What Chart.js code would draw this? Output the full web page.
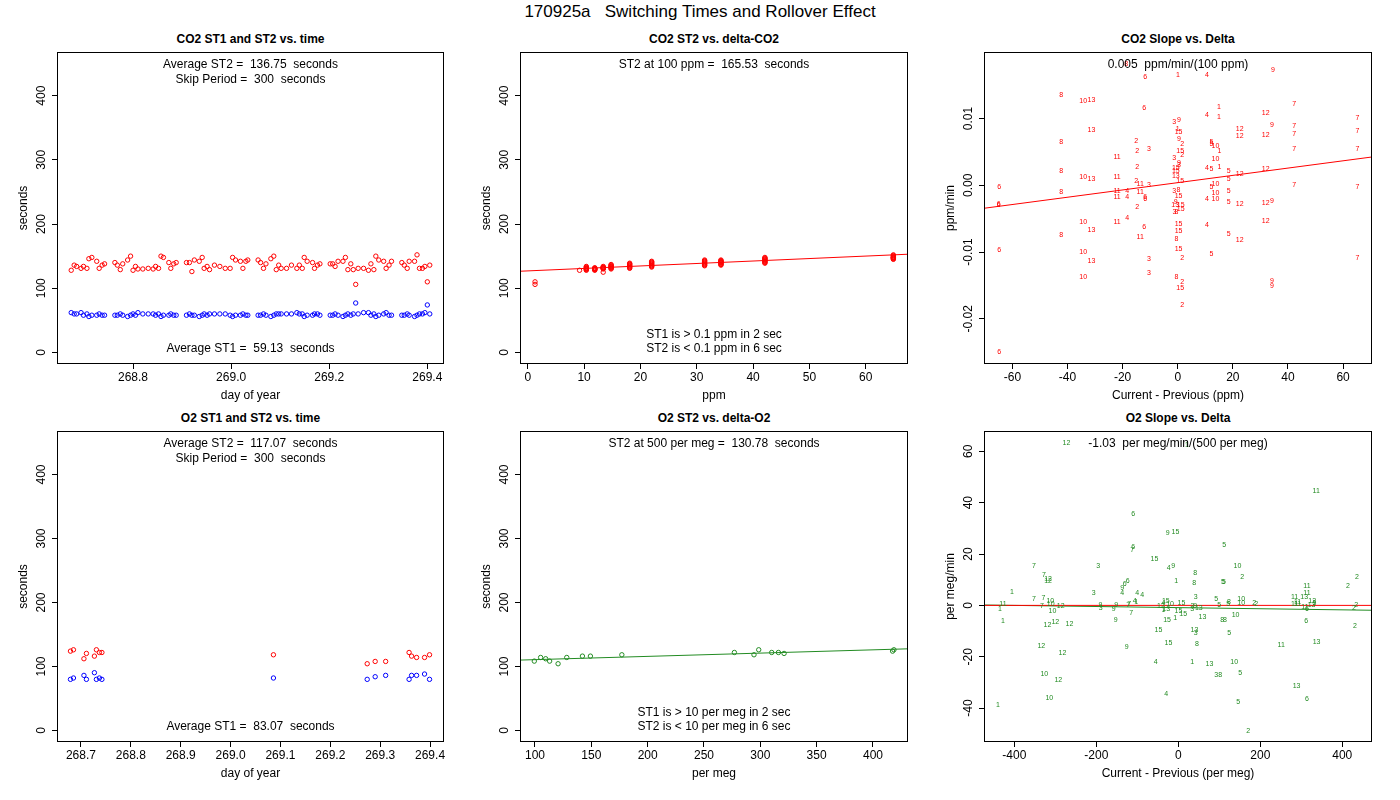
<!DOCTYPE html>
<html>
<head>
<meta charset="utf-8">
<script src="https://cdn.jsdelivr.net/npm/chart.js@4.4.0/dist/chart.umd.min.js"></script>
<style>
  body { margin: 0; width: 1400px; height: 800px; background: #fff; position: relative; overflow: hidden;
         font-family: "Liberation Sans", Arial, sans-serif; color: #000; }
  #mainTitle { position: absolute; left: 0; top: 2px; width: 1400px; text-align: center; font-size: 17px; line-height: 20px; }
  .ptitle { position: absolute; width: 400px; text-align: center; font-weight: bold; font-size: 12px; line-height: 14px; }
  canvas { position: absolute; }
</style>
</head>
<body>
<div id="mainTitle">170925a&nbsp;&nbsp;&nbsp;Switching Times and Rollover Effect</div>

<script>
// ---- CO2 ST1 / ST2 vs time ----
const co2Time = [
  268.674, 268.680, 268.685, 268.694, 268.699, 268.706, 268.710, 268.716, 268.726, 268.731, 268.737, 268.742,
  268.763, 268.768, 268.774, 268.779, 268.789, 268.795, 268.800, 268.805, 268.810, 268.820, 268.831, 268.841,
  268.846, 268.852, 268.857, 268.862, 268.873, 268.877, 268.883, 268.888,
  268.909, 268.915, 268.920, 268.925, 268.935, 268.941, 268.945, 268.951, 268.956, 268.966, 268.977, 268.988,
  268.998, 269.003, 269.009, 269.019, 269.024, 269.030, 269.034,
  269.055, 269.060, 269.066, 269.071, 269.081, 269.087, 269.092, 269.097, 269.102, 269.113, 269.123, 269.134,
  269.139, 269.145, 269.149, 269.155, 269.166, 269.170, 269.176, 269.181,
  269.202, 269.207, 269.212, 269.218, 269.228, 269.233, 269.238, 269.244, 269.249, 269.254, 269.259, 269.270,
  269.280, 269.285, 269.291, 269.295, 269.301, 269.311, 269.316, 269.322, 269.327,
  269.348, 269.353, 269.359, 269.363, 269.374, 269.379, 269.384, 269.390, 269.395, 269.400, 269.405
];
const co2St2 = [
  128, 136, 134, 131, 134, 131, 146, 148, 142, 131, 136, 138,
  140, 136, 129, 138, 144, 150, 128, 134, 130, 130, 131, 130, 134, 131, 150, 148, 140, 131, 138, 140,
  140, 140, 126, 144, 142, 148, 131, 134, 129, 136, 134, 131, 131, 148, 144, 142, 131, 142, 144,
  144, 140, 131, 138, 146, 150, 129, 136, 131, 131, 136, 131, 136, 131, 148, 142, 140, 131, 136, 138,
  138, 138, 134, 142, 142, 148, 129, 138, 129, 106, 131, 131, 128, 138, 129, 150, 144, 142, 131, 136, 142,
  140, 136, 131, 142, 142, 152, 131, 131, 134, 110, 136
];
const co2St1 = [
  62, 60, 60, 62, 58, 60, 56, 58, 58, 60, 58, 58,
  58, 58, 60, 58, 56, 58, 60, 58, 62, 60, 60, 60, 58, 60, 56, 58, 58, 60, 58, 58,
  58, 60, 58, 58, 56, 58, 60, 58, 60, 60, 60, 60, 58, 56, 58, 58, 60, 58, 58,
  58, 58, 60, 58, 56, 58, 60, 60, 60, 60, 60, 62, 60, 60, 56, 58, 58, 60, 60, 58,
  58, 58, 60, 58, 56, 58, 60, 58, 60, 77, 60, 62, 62, 58, 60, 56, 58, 60, 62, 58, 58,
  58, 58, 60, 58, 56, 58, 60, 60, 62, 74, 60
];

// ---- CO2 ST2 vs delta-CO2 ----
const co2DeltaPpm = [
  1.3, 1.3, 9.2,
  10.4, 10.4, 10.4, 10.4, 10.4, 10.4, 10.4, 10.4, 10.4,
  11.9, 11.9, 11.9, 11.9, 11.9, 11.9, 11.9, 11.9,
  13.4, 13.4, 13.4, 13.4, 13.4, 13.4, 13.4, 13.4,
  14.8, 14.8, 14.8, 14.8, 14.8, 14.8, 14.8, 14.8, 14.8,
  18.1, 18.1, 18.1, 18.1, 18.1, 18.1, 18.1, 18.1, 18.1,
  22.0, 22.0, 22.0, 22.0, 22.0, 22.0, 22.0, 22.0, 22.0, 22.0,
  31.4, 31.4, 31.4, 31.4, 31.4, 31.4, 31.4, 31.4, 31.4, 31.4,
  34.3, 34.3, 34.3, 34.3, 34.3, 34.3, 34.3, 34.3, 34.3, 34.3,
  42.1, 42.1, 42.1, 42.1, 42.1, 42.1, 42.1, 42.1, 42.1, 42.1,
  64.9, 64.9, 64.9, 64.9, 64.9, 64.9, 64.9, 64.9, 64.9, 64.9
];
const co2DeltaSt2 = [
  106, 110, 128,
  128, 129, 130, 131, 132, 133, 134, 131, 130,
  128, 129, 130, 131, 132, 130, 129, 131,
  125, 130, 131, 132, 133, 134, 131, 132,
  130, 131, 132, 133, 134, 135, 136, 137, 133,
  131, 132, 133, 134, 135, 136, 137, 138, 139,
  133, 134, 135, 136, 137, 138, 139, 140, 141, 142,
  135, 136, 137, 138, 139, 140, 141, 142, 143, 144,
  136, 137, 138, 139, 140, 141, 142, 143, 144, 141,
  139, 140, 141, 142, 143, 144, 145, 146, 147, 148,
  145, 146, 147, 148, 149, 150, 151, 152, 148, 147
];
const co2FitX = [-1.37, 67.5];
const co2FitY = [126.5, 153.0];

// ---- CO2 slope vs delta (labelled by cycle number) ----
const co2SlopeLabel = [
  '9','6','1','4','8','8','10','13','6','1','7','12','4','1','7','3','9','9','7','13',
  '1','15','12','12','12','7','7','8','2','9','2','5','5','10','1','2','3','15','2','7',
  '7','11','3','10','2','8','9','3','15','15','4','5','1','5','12','12','10','13','11','13',
  '15','5','2','11','3','7','6','7','5','10','8','11','4','11','3','8','10','5','15','11',
  '4','6','6','4','10','12','12','9','5','6','6','2','9','13','15','15','3','8','4','10',
  '11','12','15','4','6','13','15','8','5','11','8','12','15','6','10','5','13','3','2','7',
  '3','10','8','2','9','9','15','2','6'
];
const co2SlopeDelta = [
  34.6, -11.8, 0.1, 10.6, -18.7, -42.3, -34.3, -31.3, -12.2, 15.0, 42.3, 31.9, 10.6, 15.0, 65.2, -1.3, 0.4, 34.2, 42.3, -31.3,
  0.0, 0.3, 22.5, 22.5, 31.9, 42.3, 65.2, -42.3, -15.1, 0.4, 1.6, 12.2, 12.2, 13.7, 15.1, -14.7, -10.4, 0.9, 1.6, 42.3,
  65.2, -22.0, -1.3, 13.7, -14.7, -42.3, 0.4, 0.4, -0.7, -0.7, 10.6, 12.2, 15.1, 18.5, 22.5, 31.9, -34.3, -31.3, -22.0, -0.7,
  0.9, 18.5, -15.1, -13.6, -10.4, 42.3, -64.8, 65.2, 12.2, 13.7, -42.3, -22.0, -18.3, -13.6, -1.3, 0.3, 13.7, 18.5, 0.3, -22.0,
  -18.3, -11.8, -11.8, 10.6, 13.7, 22.5, 31.9, 34.2, 18.5, -65.0, -65.0, -14.7, -0.7, -0.9, 1.1, 1.1, -1.2, -0.5, -18.3, -34.3,
  -22.0, 31.9, 0.3, 10.6, -12.2, -31.3, 0.3, -42.3, 18.5, -13.6, -0.5, 22.5, 0.3, -64.8, -34.3, 12.2, -31.3, -10.4, 1.6, 65.2,
  -10.4, -34.3, -0.5, 1.6, 34.2, 34.2, 0.9, 1.6, -64.8
];
const co2SlopeValue = [
  0.0172, 0.0162, 0.0165, 0.0165, 0.0181, 0.0135, 0.0126, 0.0127, 0.0115, 0.0117, 0.0121, 0.0108, 0.0105, 0.0102, 0.0100, 0.0095, 0.0097, 0.0090, 0.0088, 0.0082,
  0.0084, 0.0079, 0.0084, 0.0073, 0.0075, 0.0076, 0.0081, 0.0064, 0.0066, 0.0069, 0.0062, 0.0064, 0.0061, 0.0059, 0.0052, 0.0052, 0.0054, 0.0051, 0.0046, 0.0055,
  0.0054, 0.0043, 0.0041, 0.0039, 0.0028, 0.0021, 0.0033, 0.0030, 0.0026, 0.0021, 0.0026, 0.0024, 0.0028, 0.0021, 0.0017, 0.0024, 0.0013, 0.0009, 0.0012, 0.0014,
  0.0007, 0.0010, 0.0006, 0.0002, 0.0000, 0.0000, -0.0003, -0.0003, -0.0003, 0.0002, -0.0010, -0.0009, -0.0009, -0.0010, -0.0009, -0.0007, -0.0012, -0.0009, -0.0016, -0.0018,
  -0.0018, -0.0017, -0.0020, -0.0021, -0.0021, -0.0028, -0.0027, -0.0024, -0.0025, -0.0028, -0.0030, -0.0033, -0.0025, -0.0030, -0.0030, -0.0036, -0.0040, -0.0040, -0.0049, -0.0055,
  -0.0055, -0.0054, -0.0058, -0.0060, -0.0063, -0.0067, -0.0069, -0.0075, -0.0073, -0.0078, -0.0081, -0.0082, -0.0096, -0.0097, -0.0100, -0.0103, -0.0114, -0.0111, -0.0109, -0.0109,
  -0.0132, -0.0138, -0.0138, -0.0145, -0.0144, -0.0151, -0.0154, -0.0180, -0.0250
];
const co2SlopeFitX = [-70.3, 70.5];
const co2SlopeFitY = [-0.00344, 0.00424];

// ---- O2 ST1 / ST2 vs time ----
const o2Time = [268.679, 268.685, 268.706, 268.711, 268.727, 268.731, 268.737, 268.742, 269.086,
                269.274, 269.290, 269.311, 269.358, 269.363, 269.373, 269.389, 269.399];
const o2St2 = [124.0, 126.1, 112.1, 120.4, 116.2, 126.1, 121.9, 121.9, 118.3,
               104.3, 107.9, 107.9, 121.9, 116.2, 114.1, 114.1, 118.3];
const o2St1 = [79.9, 82.0, 86.1, 79.9, 90.3, 79.9, 82.0, 79.9, 82.0,
               79.9, 84.0, 86.1, 79.9, 86.1, 86.1, 88.2, 79.9];

// ---- O2 ST2 vs delta-O2 ----
const o2DeltaPerMeg = [99.4, 105.0, 109.5, 113.0, 120.5, 128.2, 142.1, 149.2, 177.1,
                       277.0, 294.4, 298.6, 310.1, 316.1, 321.1, 417.4, 418.6];
const o2DeltaSt2 = [108.4, 114.1, 112.1, 108.4, 104.3, 114.1, 116.2, 116.2, 118.3,
                    121.9, 118.3, 126.1, 121.9, 121.9, 120.4, 124.0, 126.1];
const o2FitX = [86.7, 431.1];
const o2FitY = [110.0, 127.6];

// ---- O2 slope vs delta (labelled by cycle number) ----
const o2SlopeLabel = [
  '12','1','11','6','9','15','5','6','7','15','3','7','4','9','10','8','2','7','12','12',
  '1','8','5','5','6','6','9','4','11','2','2','1','3','4','4','11','3','5','7','7',
  '10','11','13','11','13','5','10','10','2','2','8','5','4','1','7','7','15','15','10','4',
  '3','9','13','3','11','11','13','11','6','2','2','11','1','7','10','12','9','3','9','9',
  '12','1','13','15','15','5','10','7','1','15','9','13','10','8','8','1','12','12','12','6',
  '2','15','13','3','5','13','15','8','12','9','11','12','4','1','13','10','10','3','8','5',
  '12','13','10','4','6','5','1','2'
];
const o2SlopeDelta = [
  -273, 21, 336.5, -110.3, -25.7, -7.0, 111.9, -110.3, -112.7, -58.2, -195.7, -352.0, -23.2, -12.6, 144.4, 41.1, 155.8, -327.6, -317.8, -317.8,
  -5.3, 38.6, 108.6, 111.1, -123.3, -130.6, -137.1, -137.1, 313.7, 413.8, 435.8, -405.7, -206.3, -100.5, -88.3, 313.7, 42.7, 92.4, -352.0, -329.2,
  -312.1, 283.6, 307.2, 291.0, 326.7, 332.4, 153.4, 153.4, 185.1, 190.0, 123.3, 121.6, -106.2, -103.0, -120.1, -122.5, -30.5, 7.7, -20.0, -36.3,
  34.6, 41.1, 50.0, 33.8, 283.6, 291.0, 325.1, 308.8, 313.7, 434.1, 428.4, -427.7, -435.0, -332.5, -311.3, -286.9, -190.0, -189.2, -151.8, -157.5,
  -42.7, -36.3, -29.7, 0.4, 11.8, 99.7, -307.2, -115.2, -7.8, -27.3, -152.6, 59.0, 139.6, 107.0, 113.5, -427.7, -319.4, -300.0, -265.7, 312.1,
  430.9, -48.4, 39.4, 42.7, 124.1, 337.3, -24.0, 45.2, -334.1, -125.7, 251.0, -282.8, -54.9, 33.8, 76.1, 136.3, -326.8, 92.4, 102.1, 150.9,
  -292.6, 288.5, -314.6, -29.7, 313.7, 146.1, -439.9, 170.5
];
const o2SlopeValue = [
  63.3, 62.5, 44.7, 35.4, 28.0, 28.6, 23.3, 22.9, 21.6, 17.9, 15.5, 15.2, 14.6, 15.5, 15.2, 12.4, 10.9, 11.9, 10.2, 9.5,
  9.3, 8.5, 8.9, 8.9, 9.5, 8.2, 6.6, 4.7, 7.4, 7.4, 10.9, 5.3, 4.7, 4.7, 3.9, 4.7, 3.1, 2.5, 2.3, 2.7,
  1.7, 3.1, 3.1, 1.4, 1.8, 0.9, 2.3, 0.8, 0.8, 0.4, 1.2, 0.4, 1.6, 1.3, 0.6, 0.0, 1.7, 0.8, 0.4, 0.9,
  -0.3, -0.3, -1.2, -1.4, 0.4, 0.4, 0.1, -0.8, -1.6, 0.1, -1.0, 0.6, -1.6, -0.1, 0.5, -0.4, 0.1, -1.2, 0.0, -1.4,
  -0.4, -1.9, -1.6, -2.1, -3.5, 0.1, -2.3, -3.1, -5.1, -5.8, -5.8, -4.7, -3.9, -5.8, -5.8, -6.3, -7.8, -6.6, -7.4, -6.3,
  -8.2, -9.7, -9.7, -10.9, -10.9, -14.4, -14.8, -15.2, -15.9, -16.3, -15.5, -18.6, -22.1, -22.1, -22.9, -22.1, -26.8, -27.2, -27.2, -26.4,
  -29.1, -31.5, -36.1, -34.6, -36.5, -37.7, -39.0, -49.0
];
const o2ZeroX = [-474, 472.5];
const o2ZeroY = [0, 0];
const o2SlopeFitX = [-474, 472.5];
const o2SlopeFitY = [0.15, -1.9];

// ---- axis ticks ----
const secTicks = [0, 100, 200, 300, 400];
const co2TimeTicks = [268.8, 269.0, 269.2, 269.4];
const o2TimeTicks = [268.7, 268.8, 268.9, 269.0, 269.1, 269.2, 269.3, 269.4];
const ppmTicks = [0, 10, 20, 30, 40, 50, 60];
const co2SlopeXTicks = [-60, -40, -20, 0, 20, 40, 60];
const co2SlopeYTicks = [-0.02, -0.01, 0.00, 0.01];
const perMegTicks = [100, 150, 200, 250, 300, 350, 400];
const o2SlopeXTicks = [-400, -200, 0, 200, 400];
const o2SlopeYTicks = [-40, -20, 0, 20, 40, 60];

const RED = '#ff0000', BLUE = '#0000ff', GREEN = '#228b22';
const FONT = '"Liberation Sans", Arial, sans-serif';

const pts = (xs, ys) => xs.map((x, i) => ({x: x, y: ys[i]}));

// R-like decorations: box, rotated y labels, in-plot notes, text markers
const rDecor = {
    id: 'rDecor',
    afterDatasetsDraw(chart) {
        const ctx = chart.ctx;
        chart.data.datasets.forEach((ds, di) => {
            if (!ds.textLabels) return;
            const meta = chart.getDatasetMeta(di);
            ctx.save();
            ctx.fillStyle = ds.textColor;
            ctx.font = '7px ' + FONT;
            ctx.textAlign = 'center';
            ctx.textBaseline = 'middle';
            meta.data.forEach((el, i) => ctx.fillText(ds.textLabels[i], el.x, el.y));
            ctx.restore();
        });
    },
    afterDraw(chart, args, opts) {
        const ctx = chart.ctx;
        const a = chart.chartArea;
        const ys = chart.scales.y;
        ctx.save();
        ctx.strokeStyle = '#000';
        ctx.lineWidth = 1;
        ctx.strokeRect(a.left + 0.5, a.top + 0.5, a.right - a.left - 1, a.bottom - a.top - 1);

        ctx.fillStyle = '#000';
        ctx.font = '12px ' + FONT;
        ctx.textAlign = 'center';
        ctx.textBaseline = 'middle';
        ys.ticks.forEach(t => {
            const y = ys.getPixelForValue(t.value);
            ctx.save();
            ctx.translate(a.left - 15, y);
            ctx.rotate(-Math.PI / 2);
            ctx.fillText(opts.yFmt(t.value), 0, 0);
            ctx.restore();
        });

        const cx = (a.left + a.right) / 2;
        (opts.top || []).forEach((s, i) => ctx.fillText(s, cx, a.top + 13 + i * 14.5));
        (opts.bottom || []).forEach((s, i, arr) => ctx.fillText(s, cx, a.bottom - 15 - (arr.length - 1 - i) * 14.5));
        ctx.restore();
    }
};

function circles(xs, ys, color) {
    return {data: pts(xs, ys), borderColor: color, backgroundColor: 'rgba(0,0,0,0)',
            pointRadius: 2.2, pointBorderWidth: 1, pointHoverRadius: 2.2};
}
function fitLine(xs, ys, color) {
    return {data: pts(xs, ys), showLine: true, borderColor: color, borderWidth: 1, pointRadius: 0};
}
function numbers(labels, xs, ys, color) {
    return {data: pts(xs, ys), pointRadius: 0, textLabels: labels, textColor: color};
}

function panel(p) {
    const padL = 41, padR = 10, padT = 4, axisH = 39;
    const canvas = document.createElement('canvas');
    canvas.width = Math.round(p.box.r - p.box.l) + padL + padR;
    canvas.height = Math.round(p.box.b - p.box.t) + padT + axisH;
    canvas.style.left = (p.box.l - padL) + 'px';
    canvas.style.top = (p.box.t - padT) + 'px';
    document.body.appendChild(canvas);

    const t = document.createElement('div');
    t.className = 'ptitle';
    t.textContent = p.title;
    t.style.left = ((p.box.l + p.box.r) / 2 - 200) + 'px';
    t.style.top = (p.box.t - 20.5) + 'px';
    document.body.appendChild(t);

    const tickFont = {family: FONT, size: 12};
    new Chart(canvas, {
        type: 'scatter',
        data: {datasets: p.datasets},
        options: {
            responsive: false,
            animation: false,
            events: [],
            layout: {padding: {top: padT, right: padR, left: 0, bottom: 0}},
            plugins: {
                legend: {display: false},
                tooltip: {enabled: false},
                title: {display: false},
                rDecor: {top: p.top, bottom: p.bottom, yFmt: p.yFmt}
            },
            scales: {
                x: {
                    type: 'linear', min: p.xMin, max: p.xMax,
                    afterBuildTicks: s => { s.ticks = p.xTicks.map(v => ({value: v})); },
                    afterFit: s => { s.height = axisH; },
                    ticks: {callback: v => p.xFmt(v), font: tickFont, color: '#000', padding: 1,
                            maxRotation: 0, autoSkip: false},
                    grid: {drawOnChartArea: false, drawTicks: true, tickLength: 5, color: '#000'},
                    border: {display: false},
                    title: {display: true, text: p.xTitle, font: tickFont, color: '#000', padding: 0}
                },
                y: {
                    type: 'linear', min: p.yMin, max: p.yMax,
                    afterBuildTicks: s => { s.ticks = p.yTicks.map(v => ({value: v})); },
                    afterFit: s => { s.width = padL; },
                    ticks: {display: false},
                    grid: {drawOnChartArea: false, drawTicks: true, tickLength: 5, color: '#000'},
                    border: {display: false},
                    title: {display: true, text: p.yTitle, font: tickFont, color: '#000', padding: 0}
                }
            }
        },
        plugins: [rDecor]
    });
}

const colL = [57, 520, 984], colR = [444, 908, 1372];
const rowT = [52, 431], rowB = [364, 742];
const box = (c, r) => ({l: colL[c], r: colR[c], t: rowT[r], b: rowB[r]});
const int = v => String(Math.round(v));
const one = v => v.toFixed(1);

panel({
    box: box(0, 0), title: 'CO2 ST1 and ST2 vs. time',
    xMin: 268.645, xMax: 269.434, yMin: -18, yMax: 468,
    xTicks: co2TimeTicks, yTicks: secTicks, xFmt: one, yFmt: int,
    xTitle: 'day of year', yTitle: 'seconds',
    top: ['Average ST2 =  136.75  seconds', 'Skip Period =  300  seconds'],
    bottom: ['Average ST1 =  59.13  seconds'],
    datasets: [circles(co2Time, co2St2, RED), circles(co2Time, co2St1, BLUE)]
});
panel({
    box: box(1, 0), title: 'CO2 ST2 vs. delta-CO2',
    xMin: -1.37, xMax: 67.5, yMin: -18, yMax: 468,
    xTicks: ppmTicks, yTicks: secTicks, xFmt: int, yFmt: int,
    xTitle: 'ppm', yTitle: 'seconds',
    top: ['ST2 at 100 ppm =  165.53  seconds'],
    bottom: ['ST1 is > 0.1 ppm in 2 sec', 'ST2 is < 0.1 ppm in 6 sec'],
    datasets: [circles(co2DeltaPpm, co2DeltaSt2, RED), fitLine(co2FitX, co2FitY, RED)]
});
panel({
    box: box(2, 0), title: 'CO2 Slope vs. Delta',
    xMin: -70.3, xMax: 70.5, yMin: -0.02676, yMax: 0.01996,
    xTicks: co2SlopeXTicks, yTicks: co2SlopeYTicks, xFmt: int, yFmt: v => v.toFixed(2),
    xTitle: 'Current - Previous (ppm)', yTitle: 'ppm/min',
    top: ['0.005  ppm/min/(100 ppm)'],
    datasets: [numbers(co2SlopeLabel, co2SlopeDelta, co2SlopeValue, RED),
               fitLine(co2SlopeFitX, co2SlopeFitY, RED)]
});
panel({
    box: box(0, 1), title: 'O2 ST1 and ST2 vs. time',
    xMin: 268.652, xMax: 269.428, yMin: -18, yMax: 468,
    xTicks: o2TimeTicks, yTicks: secTicks, xFmt: one, yFmt: int,
    xTitle: 'day of year', yTitle: 'seconds',
    top: ['Average ST2 =  117.07  seconds', 'Skip Period =  300  seconds'],
    bottom: ['Average ST1 =  83.07  seconds'],
    datasets: [circles(o2Time, o2St2, RED), circles(o2Time, o2St1, BLUE)]
});
panel({
    box: box(1, 1), title: 'O2 ST2 vs. delta-O2',
    xMin: 86.7, xMax: 431.1, yMin: -18, yMax: 468,
    xTicks: perMegTicks, yTicks: secTicks, xFmt: int, yFmt: int,
    xTitle: 'per meg', yTitle: 'seconds',
    top: ['ST2 at 500 per meg =  130.78  seconds'],
    bottom: ['ST1 is > 10 per meg in 2 sec', 'ST2 is < 10 per meg in 6 sec'],
    datasets: [circles(o2DeltaPerMeg, o2DeltaSt2, GREEN), fitLine(o2FitX, o2FitY, GREEN)]
});
panel({
    box: box(2, 1), title: 'O2 Slope vs. Delta',
    xMin: -474, xMax: 472.5, yMin: -53.2, yMax: 67.9,
    xTicks: o2SlopeXTicks, yTicks: o2SlopeYTicks, xFmt: int, yFmt: int,
    xTitle: 'Current - Previous (per meg)', yTitle: 'per meg/min',
    top: ['-1.03  per meg/min/(500 per meg)'],
    datasets: [numbers(o2SlopeLabel, o2SlopeDelta, o2SlopeValue, GREEN),
               fitLine(o2ZeroX, o2ZeroY, RED), fitLine(o2SlopeFitX, o2SlopeFitY, GREEN)]
});
</script>
</body>
</html>
